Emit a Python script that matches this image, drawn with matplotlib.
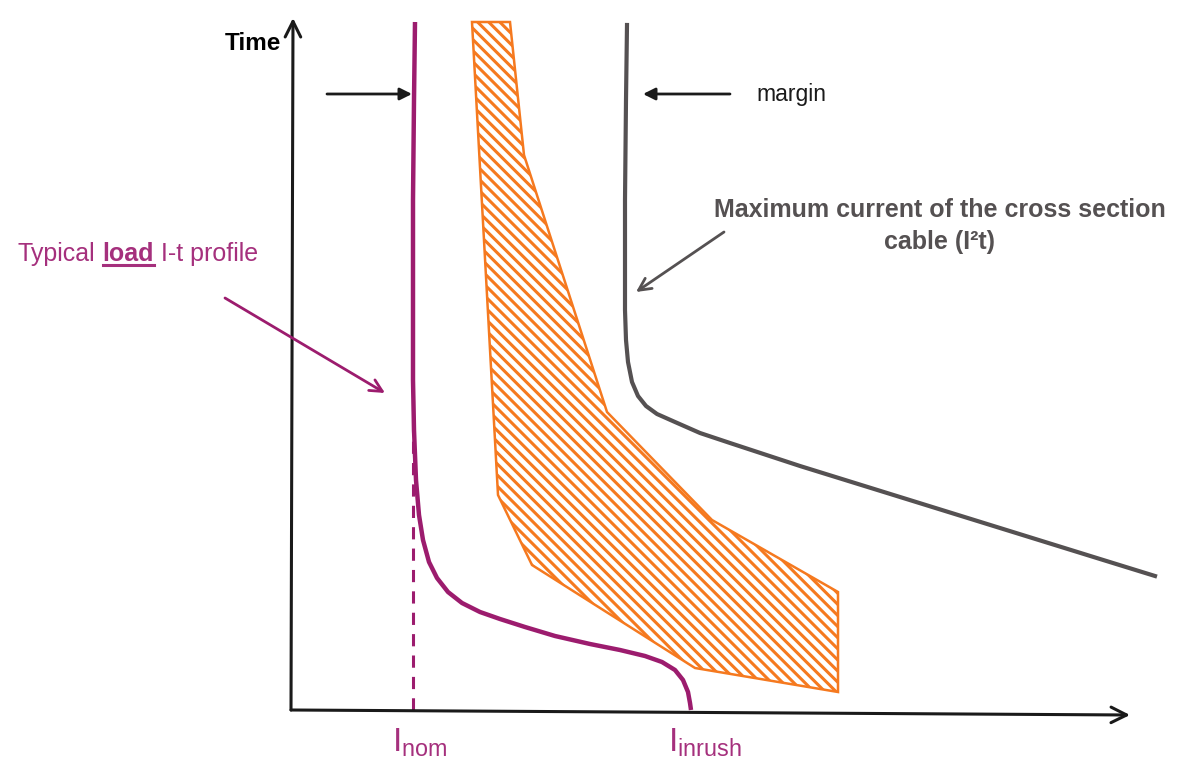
import numpy as np
import matplotlib
matplotlib.use("Agg")
import matplotlib.pyplot as plt
from matplotlib.patches import Polygon

plt.rcParams['font.family'] = ['Liberation Sans', 'DejaVu Sans']
plt.rcParams['mathtext.fontset'] = 'custom'
plt.rcParams['mathtext.rm'] = 'Liberation Sans'
plt.rcParams['hatch.linewidth'] = 2.2

# colours
purple = '#9C1C6E'
purple_txt = '#A5307D'
orange = '#F5791F'
grey = '#555152'

# schematic data (current, time) in arbitrary units, origin at axes crossing
load_current = [124, 123, 122, 122, 122, 123, 125, 128, 132, 138, 146, 157, 171, 189,
                209, 234, 264, 299, 329, 354, 371, 384, 392, 397, 399, 400]
load_time = [688, 610, 510, 410, 330, 280, 230, 195, 170, 148, 132, 118, 107, 98,
             91, 83, 74, 66, 60, 54, 48, 40, 30, 18, 7, 0]

cable_current = [336, 335, 334, 334, 335, 337, 341, 347, 355, 366, 384, 409, 439,
                 509, 609, 709, 809, 864]
cable_time = [685, 610, 510, 400, 370, 348, 328, 314, 304, 296, 288, 277, 267,
              244, 213, 182, 151, 134]

# fuse tripping band (outline, clockwise)
band_current = [181, 207, 241, 404, 547, 547, 421, 316, 233, 219]
band_time = [688, 215, 145, 42, 18, 118, 190, 298, 555, 688]

i_nom = 122
i_inrush = 400
i_nom_top = 310

fig = plt.figure(figsize=(11.88, 7.8), dpi=100)
ax = fig.add_axes([0, 0, 1, 1])
ax.set_xlim(-291, 897)
ax.set_ylim(-70, 710)
ax.axis('off')

# axes arrows
ax.annotate('', xy=(2, 692), xytext=(0, 0),
            arrowprops=dict(arrowstyle='->', color='#1a1a1a', lw=2.2,
                            mutation_scale=28, shrinkA=0, shrinkB=0))
ax.annotate('', xy=(839, -5), xytext=(0, 0),
            arrowprops=dict(arrowstyle='->', color='#1a1a1a', lw=2.2,
                            mutation_scale=28, shrinkA=0, shrinkB=0))
ax.text(-38, 666, 'Time', fontsize=17.5, fontweight='bold', ha='center', va='center')

# fuse band
band = Polygon(np.column_stack([band_current, band_time]), closed=True,
               facecolor='white', edgecolor=orange, lw=1.8, hatch='\\\\\\')
ax.add_patch(band)

# load profile
ax.plot(load_current, load_time, color=purple, lw=3.2, solid_capstyle='butt')
ax.plot([i_nom, i_nom], [0, i_nom_top], color=purple, lw=2.2, ls=(0, (4, 3)))

# cable limit
ax.plot(cable_current, cable_time, color=grey, lw=3.0)

# margin arrows
ax.annotate('', xy=(121, 616), xytext=(36, 616),
            arrowprops=dict(arrowstyle='-|>', color='#1a1a1a', lw=2,
                            mutation_scale=18, shrinkA=0, shrinkB=0))
ax.annotate('', xy=(352, 616), xytext=(439, 616),
            arrowprops=dict(arrowstyle='-|>', color='#1a1a1a', lw=2,
                            mutation_scale=18, shrinkA=0, shrinkB=0))
ax.text(465, 616, 'margin', fontsize=16.5, ha='left', va='center', color='#1a1a1a')

# cable annotation
ax.annotate('', xy=(345, 418), xytext=(433, 478),
            arrowprops=dict(arrowstyle='->', color=grey, lw=2,
                            mutation_scale=22, shrinkA=0, shrinkB=0))
ax.text(649, 484, 'Maximum current of the cross section\ncable (I²t)', fontsize=18,
        fontweight='bold', color=grey, ha='center', va='center', linespacing=1.4)

# load annotation
ax.annotate('', xy=(94, 317), xytext=(-66, 412),
            arrowprops=dict(arrowstyle='->', color=purple, lw=2,
                            mutation_scale=22, shrinkA=0, shrinkB=0))

r = fig.canvas.get_renderer()
inv = ax.transData.inverted()
base_y = 449
t1 = ax.text(-273, base_y, 'Typical', fontsize=18, color=purple_txt, va='baseline')
x1 = inv.transform((t1.get_window_extent(r).x1, 0))[0] + 7
t2 = ax.text(x1, base_y, 'load', fontsize=18, color=purple_txt, va='baseline',
             fontweight='bold')
bb2 = t2.get_window_extent(r)
x2a = inv.transform((bb2.x0, 0))[0]
x2b = inv.transform((bb2.x1, 0))[0]
ax.plot([x2a, x2b], [base_y - 4, base_y - 4], color=purple_txt, lw=2.2)
ax.text(x2b + 7, base_y, 'I-t profile', fontsize=18, color=purple_txt, va='baseline')

# current labels
ax.text(101, -33, r'$\mathregular{I_{nom}}$', fontsize=24, color=purple_txt,
        ha='left', va='center')
ax.text(377, -33, r'$\mathregular{I_{inrush}}$', fontsize=24, color=purple_txt,
        ha='left', va='center')

fig.savefig('out.png', dpi=100)
